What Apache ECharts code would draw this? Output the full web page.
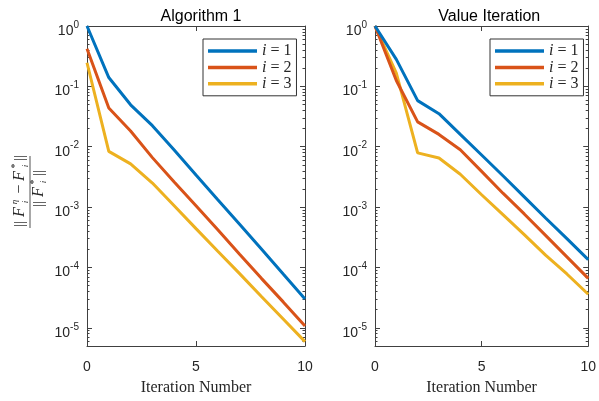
<!DOCTYPE html>
<html>
<head>
<meta charset="utf-8">
<script src="https://cdn.jsdelivr.net/npm/echarts@6/dist/echarts.min.js"></script>
<style>
html, body { margin: 0; padding: 0; background: #fff; }
#chart { width: 599px; height: 401px; }
</style>
</head>
<body>
<div id="chart"></div>
<script>
// iteration index (x) and relative error of each value function (y, log scale)
const iterations = [0, 1, 2, 3, 4, 5, 6, 7, 8, 9, 10];
const alg1I1 = [1, 0.14, 0.0495, 0.0223, 0.0088, 0.0034, 0.00132, 0.00052, 0.000203, 0.000078, 0.00003];
const alg1I2 = [0.42, 0.0438, 0.0182, 0.0066, 0.0026, 0.00105, 0.00042, 0.000166, 0.000066, 0.0000269, 0.0000107];
const alg1I3 = [0.246, 0.00838, 0.0052, 0.0025, 0.00105, 0.00044, 0.000186, 0.000079, 0.000033, 0.000014, 0.0000059];
const viI1 = [1, 0.28, 0.058, 0.0353, 0.016, 0.0073, 0.0033, 0.00148, 0.00066, 0.0003, 0.000135];
const viI2 = [1, 0.125, 0.0258, 0.016, 0.0089, 0.0039, 0.0017, 0.00077, 0.00034, 0.00015, 0.000066];
const viI3 = [1, 0.165, 0.0079, 0.0065, 0.0035, 0.0016, 0.00075, 0.00035, 0.00016, 0.000078, 0.000036];
const seriesNames = ['i = 1', 'i = 2', 'i = 3'];
const titles = ['Algorithm 1', 'Value Iteration'];
const xTicks = [0, 5, 10];
const yMajor = [1e-5, 1e-4, 1e-3, 1e-2, 1e-1, 1];
const yMin = 5e-6, yMax = 1;

// matlab style minor ticks 2..9 in each decade
const yMinor = [];
for (let d = -6; d < 0; d++) {
  for (let m = 2; m <= 9; m++) {
    const v = m * Math.pow(10, d);
    if (v > yMin && v < yMax) yMinor.push(v);
  }
}

const colors = ['#0072BD', '#D95319', '#EDB120'];
const axisColor = '#404040';
const sans = '"Liberation Sans", Arial, sans-serif';
const serif = '"Liberation Serif", "DejaVu Serif", serif';

const panels = [
  { left: 87, width: 218, title: titles[0], data: [alg1I1, alg1I2, alg1I3], legendLeft: 203 },
  { left: 375, width: 218.5, title: titles[1], data: [viI1, viI2, viI3], legendLeft: 490 }
];
const gridTop = 26, gridHeight = 325;

const grid = [], xAxis = [], yAxis = [], series = [], title = [], legend = [];

panels.forEach((p, k) => {
  grid.push({ left: p.left, top: gridTop, width: p.width, height: gridHeight });
  title.push({
    text: p.title,
    left: p.left + p.width / 2,
    top: 4,
    textAlign: 'center',
    textStyle: { fontFamily: sans, fontSize: 16, fontWeight: 'normal', color: '#000' }
  });

  // bottom and top x axes
  [['bottom', true], ['top', false]].forEach(([pos, main]) => {
    xAxis.push({
      type: 'value', gridIndex: k, position: pos, min: 0, max: 10,
      name: main ? 'Iteration Number' : '',
      nameLocation: 'middle', nameGap: 34,
      nameTextStyle: { fontFamily: serif, fontSize: 16, color: '#262626' },
      axisLine: { show: true, onZero: false, lineStyle: { color: axisColor, width: 1 } },
      axisTick: { show: true, inside: true, length: 5, customValues: xTicks, lineStyle: { color: axisColor } },
      axisLabel: { show: main, customValues: xTicks, margin: 14, fontFamily: sans, fontSize: 14, color: '#262626' },
      splitLine: { show: false }
    });
  });

  // left/right y axes, each with a major and a minor tick layer
  [['left', true], ['right', false]].forEach(([pos, main]) => {
    yAxis.push({
      type: 'log', logBase: 10, gridIndex: k, position: pos, min: yMin, max: yMax,
      axisLine: { show: true, lineStyle: { color: axisColor, width: 1 } },
      axisTick: { show: true, inside: true, length: 5, customValues: yMajor, lineStyle: { color: axisColor } },
      axisLabel: {
        show: main, customValues: yMajor, margin: 8,
        formatter: v => '{b|10}{e|' + Math.round(Math.log10(v)) + '}',
        rich: {
          b: { fontFamily: sans, fontSize: 14, color: '#262626', padding: [10, 0, 0, 0] },
          e: { fontFamily: sans, fontSize: 10, color: '#262626', padding: [0, 0, 2, 0] }
        }
      },
      splitLine: { show: false }
    });
    yAxis.push({
      type: 'log', logBase: 10, gridIndex: k, position: pos, min: yMin, max: yMax,
      axisLine: { show: false },
      axisTick: { show: true, inside: true, length: 2.5, customValues: yMinor, lineStyle: { color: axisColor } },
      axisLabel: { show: false },
      splitLine: { show: false }
    });
  });

  p.data.forEach((vals, i) => {
    series.push({
      name: seriesNames[i],
      type: 'line',
      xAxisIndex: k * 2,
      yAxisIndex: k * 4,
      data: iterations.map((x, j) => [x, vals[j]]),
      symbol: 'none',
      lineStyle: { color: colors[i], width: 3 },
      itemStyle: { color: colors[i] },
      z: 3 - i
    });
  });

  legend.push({
    left: p.legendLeft, top: 39,
    orient: 'vertical',
    data: seriesNames,
    icon: 'rect',
    itemWidth: 49, itemHeight: 3.5, itemGap: 0.4,
    padding: [4, 5, 4, 5],
    borderColor: '#333', borderWidth: 1, borderRadius: 0,
    backgroundColor: '#fff',
    selectedMode: false,
    formatter: n => n.replace('i', '{i|i}'),
    textStyle: {
      fontFamily: serif, fontSize: 16, color: '#262626', lineHeight: 14,
      rich: { i: { fontFamily: serif, fontSize: 16, fontStyle: 'italic', color: '#262626', lineHeight: 14 } }
    }
  });
});

// y label: || F_i^eta - F_i^* || over || F_i^* ||, rotated
function glyph(x, y, s, size, italic) {
  return {
    type: 'text', x: x, y: y,
    style: {
      text: s, fontFamily: serif, fontSize: size, fontStyle: italic ? 'italic' : 'normal',
      fill: '#262626', align: 'center', verticalAlign: 'middle'
    }
  };
}
const yLabel = {
  type: 'group', x: 30, y: 192, rotation: Math.PI / 2,
  children: [
    { type: 'line', shape: { x1: -36, y1: 0, x2: 36, y2: 0 }, style: { stroke: '#262626', lineWidth: 0.8 } },
    glyph(-32, -10, '||', 14, false),
    glyph(-20, -10, 'F', 16, true),
    glyph(-10, -15, 'η', 9, true),
    glyph(-10, -4, 'i', 9, true),
    glyph(3, -10, '−', 16, false),
    glyph(16, -10, 'F', 16, true),
    glyph(26, -15, '*', 10, false),
    glyph(26, -4, 'i', 9, true),
    glyph(34, -10, '||', 14, false),
    glyph(-12, 9, '||', 14, false),
    glyph(0, 9, 'F', 16, true),
    glyph(10, 4, '*', 10, false),
    glyph(10, 14, 'i', 9, true),
    glyph(19, 9, '||', 14, false)
  ]
};

const chart = echarts.init(document.getElementById('chart'));
chart.setOption({
  animation: false,
  backgroundColor: '#fff',
  title: title,
  legend: legend,
  grid: grid,
  xAxis: xAxis,
  yAxis: yAxis,
  series: series,
  graphic: [yLabel]
});
</script>
</body>
</html>
